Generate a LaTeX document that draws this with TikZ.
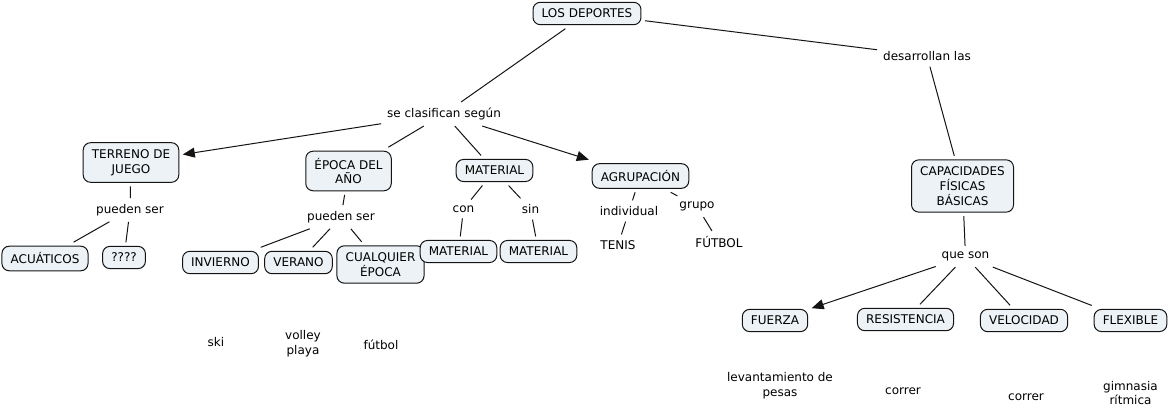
\documentclass[tikz,border=0pt]{standalone}
\usepackage{fontspec}
\setmainfont{DejaVu Sans}
\usetikzlibrary{arrows.meta}
\definecolor{boxfill}{RGB}{236,242,245}
\definecolor{linegray}{RGB}{20,20,20}
\tikzset{
  concept/.style={draw=linegray, fill=boxfill, rounded corners=5.5pt, line width=0.75pt,
    align=center, inner xsep=6.5pt, inner ysep=5pt, font=\fontsize{9pt}{11.2pt}\selectfont, outer sep=3pt},
  phrase/.style={align=center, inner sep=1.5pt, font=\fontsize{9pt}{11.2pt}\selectfont, outer sep=3pt},
  conn/.style={draw=linegray, line width=0.75pt},
  arr/.style={conn, -{Triangle[length=9pt,width=7.5pt]}},
}
\begin{document}
\begin{tikzpicture}[x=0.75pt,y=-0.75pt]
\useasboundingbox[fill=white] (0,0) rectangle (1170,416);
% concepts
\node[concept] (dep) at (587,13.5) {LOS DEPORTES};
\node[concept] (ter) at (131,162.5) {TERRENO DE\\JUEGO};
\node[concept] (epo) at (348.5,171) {ÉPOCA DEL\\AÑO};
\node[concept] (mat) at (494.5,170.5) {MATERIAL};
\node[concept] (agr) at (640.5,176) {AGRUPACIÓN};
\node[concept] (cap) at (962.5,186) {CAPACIDADES\\FÍSICAS\\BÁSICAS};
\node[concept] (acu) at (45,258.5) {ACUÁTICOS};
\node[concept] (qqq) at (124,257.5) {????};
\node[concept] (inv) at (220.5,262.5) {INVIERNO};
\node[concept] (ver) at (298.5,262.5) {VERANO};
\node[concept] (cua) at (380.5,264.5) {CUALQUIER\\ÉPOCA};
\node[concept] (mcon) at (458.5,251.5) {MATERIAL};
\node[concept] (msin) at (538.5,251.5) {MATERIAL};
\node[concept] (fue) at (775,320.5) {FUERZA};
\node[concept] (res) at (905.5,319.5) {RESISTENCIA};
\node[concept] (vel) at (1024,320.5) {VELOCIDAD};
\node[concept] (fle) at (1130.5,320.5) {FLEXIBLE};
% linking phrases
\node[phrase] (cla) at (444,114) {se clasifican según};
\node[phrase] (des) at (927,56) {desarrollan las};
\node[phrase] (pu1) at (130,210) {pueden ser};
\node[phrase] (pu2) at (341,217) {pueden ser};
\node[phrase] (con) at (463.5,209) {con};
\node[phrase] (sin) at (530.5,209) {sin};
\node[phrase] (ind) at (629,211) {individual};
\node[phrase] (gru) at (697,206.5) {grupo};
\node[phrase] (que) at (965.5,256.5) {que son};
% plain texts
\node[phrase] (ten) at (618,245) {TENIS};
\node[phrase] (fut) at (719,242.5) {FÚTBOL};
\node[phrase] (ski) at (216,342) {ski};
\node[phrase] (vol) at (303,344) {volley\\playa};
\node[phrase] (ftb) at (381,344.5) {fútbol};
\node[phrase] (lev) at (780,385.5) {levantamiento de\\pesas};
\node[phrase] (co1) at (903,391.5) {correr};
\node[phrase] (co2) at (1026,397.5) {correr};
\node[phrase] (gim) at (1130.5,393) {gimnasia\\rítmica};
% connectors
\draw[conn] (dep) -- (cla);
\draw[conn] (dep) -- (des);
\draw[conn] (des) -- (cap);
\draw[arr] (cla) -- (ter);
\draw[conn] (cla) -- (epo);
\draw[conn] (cla) -- (mat);
\draw[arr] (cla) -- (agr);
\draw[conn] (ter) -- (pu1);
\draw[conn] (pu1) -- (acu);
\draw[conn] (pu1) -- (qqq);
\draw[conn] (epo) -- (pu2);
\draw[conn] (pu2) -- (inv);
\draw[conn] (pu2) -- (ver);
\draw[conn] (pu2) -- (cua);
\draw[conn] (mat) -- (con);
\draw[conn] (con) -- (mcon);
\draw[conn] (mat) -- (sin);
\draw[conn] (sin) -- (msin);
\draw[conn] (agr) -- (ind);
\draw[conn] (ind) -- (ten);
\draw[conn] (agr) -- (gru);
\draw[conn] (gru) -- (fut);
\draw[conn] (cap) -- (que);
\draw[arr] (que) -- (fue);
\draw[conn] (que) -- (res);
\draw[conn] (que) -- (vel);
\draw[conn] (que) -- (fle);
\end{tikzpicture}
\end{document}
